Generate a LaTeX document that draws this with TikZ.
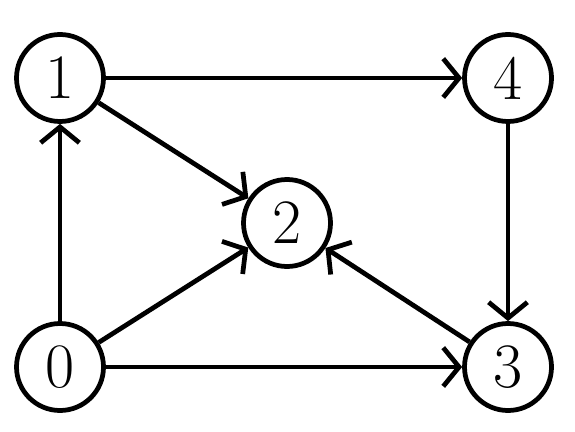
\documentclass[tikz,border=0pt]{standalone}
\usetikzlibrary{arrows.meta}

\begin{document}
\begin{tikzpicture}[>={Straight Barb[length=9pt,width=22pt]},vertex/.style={circle,draw,line width=2.7pt,minimum size=1.74cm,inner sep=0pt,font=\fontsize{36}{36}\selectfont},edge/.style={->,line width=2.7pt}]
\useasboundingbox (0,0) rectangle (11.5,-8.64);
\node[vertex] (v1) at (1.2,-1.56) {1}; \node[vertex] (v4) at (10.16,-1.56) {4}; \node[vertex] (v2) at (5.74,-4.46) {2};
\node[vertex] (v0) at (1.2,-7.34) {0}; \node[vertex] (v3) at (10.16,-7.34) {3};
\draw[edge] (v0)--(v1); \draw[edge] (v1)--(v4); \draw[edge] (v1)--(v2); \draw[edge] (v0)--(v2);
\draw[edge] (v0)--(v3); \draw[edge] (v4)--(v3); \draw[edge] (v3)--(v2);
\end{tikzpicture}
\end{document}
